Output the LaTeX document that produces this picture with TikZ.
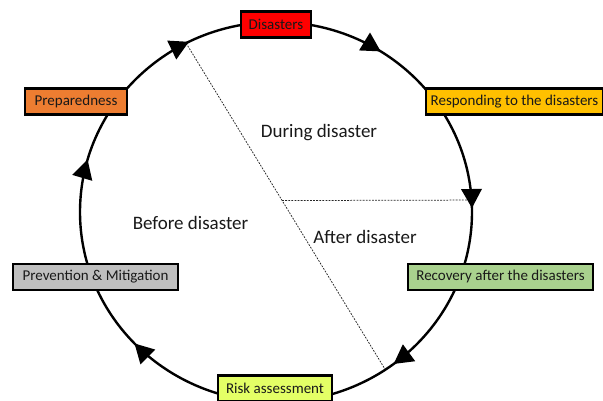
\documentclass[tikz,border=0pt]{standalone}
\usepackage{fontspec}
\setmainfont{Carlito}
\usetikzlibrary{calc}
\definecolor{cDis}{HTML}{FF0000}
\definecolor{cResp}{HTML}{FFC000}
\definecolor{cPrep}{HTML}{ED7D31}
\definecolor{cPrev}{HTML}{BFBFBF}
\definecolor{cReco}{HTML}{A9D18E}
\definecolor{cRisk}{HTML}{E4FF66}
\begin{document}
\begin{tikzpicture}[x=1pt,y=1pt,
  stage/.style={draw=black, line width=2.1pt, rectangle, minimum height=26pt,
    inner sep=0pt, font=\fontsize{15}{17}\selectfont, text=black!90},
  region/.style={font=\fontsize{19}{22}\selectfont, text=black!90},
  cyc/.style={line width=2.4pt},
  guide/.style={line width=0.75pt, dash pattern=on 1.8pt off 1.3pt, black!85}]
\fill[white] (0,0) rectangle (603,401);
\useasboundingbox (0,0) rectangle (603,401);
% dashed separators
\coordinate (dtop) at ({276+196*cos(117.3)},{189+190*sin(117.3)});
\coordinate (dbot) at ({276+196*cos(-56.1)},{189+190*sin(-56.1)});
\coordinate (dmid) at ($(dtop)!0.482!(dbot)$);
\coordinate (dright) at ({276+196*cos(3.6)},{189+190*sin(3.6)});
\draw[guide] (dtop) -- (dbot);
\draw[guide] (dmid) -- (dright);
% cycle
\draw[cyc] (276,189) ellipse [x radius=196pt, y radius=190pt];
\foreach \t in {116.4,57.7,1.2,-53.1,-136.2,164} {
  \pgfmathsetmacro\dir{atan2(-190*cos(\t),196*sin(\t))}
  \fill[shift={({276+196*cos(\t)},{189+190*sin(\t)})}, rotate=\dir]
    (0,0) -- (-19,10.5) -- (-19,-10.5) -- cycle;
}
% stages
\node[stage, fill=cDis, minimum width=70pt] (dis) at (276,376.5) {Disasters};
\node[stage, fill=cResp, minimum width=177pt] (resp) at (514.5,299.5) {Responding to the disasters};
\node[stage, fill=cPrep, minimum width=102pt] (prep) at (76,299.5) {Preparedness};
\node[stage, fill=cPrev, minimum width=165pt] (prev) at (95.5,124) {Prevention \& Mitigation};
\node[stage, fill=cReco, minimum width=185pt] (reco) at (500.5,124) {Recovery after the disasters};
\node[stage, fill=cRisk, minimum width=114pt] (risk) at (275,12.5) {Risk assessment};
% regions
\node[region] (during) at (319,268) {During disaster};
\node[region] (before) at (190.5,178) {Before disaster};
\node[region] (after) at (365,164) {After disaster};
\end{tikzpicture}
\end{document}
